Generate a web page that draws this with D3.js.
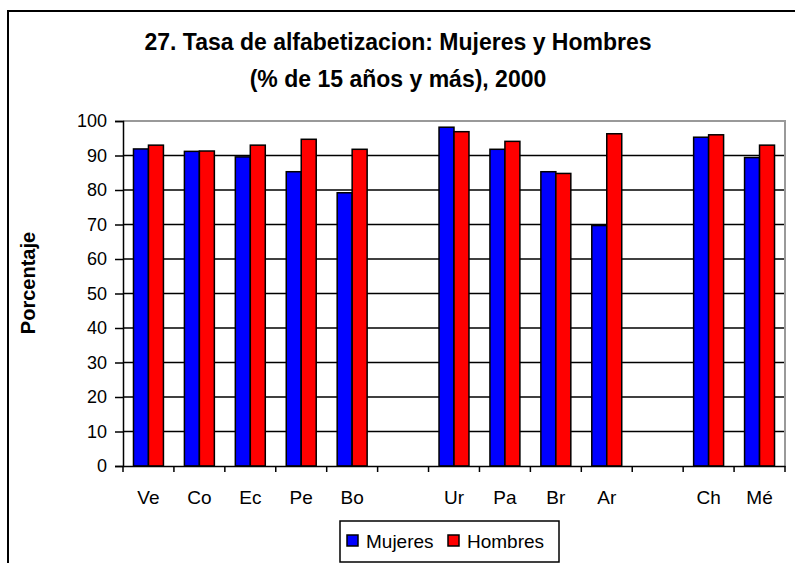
<!DOCTYPE html>
<html>
<head>
<meta charset="utf-8">
<script src="https://cdn.jsdelivr.net/npm/d3@7"></script>
<style>
  body { margin: 0; background: #fff; }
  svg { font-family: Arial, 'Liberation Sans', sans-serif; }
</style>
</head>
<body>
<div id="chart-area"></div>
<script>
// data (null = empty slot between groups)
var categories = ['Ve', 'Co', 'Ec', 'Pe', 'Bo', null, 'Ur', 'Pa', 'Br', 'Ar', null, 'Ch', 'Mé']
var mujeres = [91.9, 91.2, 89.6, 85.3, 79.2, null, 98.2, 91.8, 85.3, 69.7, null, 95.3, 89.4]
var hombres = [93.0, 91.3, 93.0, 94.7, 91.8, null, 96.9, 94.1, 84.8, 96.3, null, 96.0, 93.0]
var series = ['Mujeres', 'Hombres']
var colors = { Mujeres: '#0000ff', Hombres: '#ff0000' }
var yTicks = [0, 10, 20, 30, 40, 50, 60, 70, 80, 90, 100]

var margin = { left: 123, right: 10, top: 121, bottom: 97 }
var width = 795 - margin.left - margin.right
var height = 563 - margin.top - margin.bottom

var svg = d3.select('#chart-area')
    .append('svg')
        .attr('width', 795)
        .attr('height', 563)

// outer frame
svg.append('rect')
    .attr('x', 8).attr('y', 11)
    .attr('width', 820).attr('height', 600)
    .attr('fill', 'none')
    .attr('stroke', '#000')
    .attr('stroke-width', 2)

// title
var title = svg.append('text')
    .attr('x', 398)
    .attr('text-anchor', 'middle')
    .attr('font-size', '23px')
    .attr('font-weight', 'bold')
title.append('tspan').attr('x', 398).attr('y', 50).text('27. Tasa de alfabetizacion: Mujeres y Hombres')
title.append('tspan').attr('x', 398).attr('y', 87).text('(% de 15 años y más), 2000')

var g = svg.append('g')
    .attr('transform', `translate(${margin.left}, ${margin.top})`)

var idx = d3.range(categories.length)

// X Scale
var x = d3.scaleBand()
    .domain(idx)
    .range([0, width])
    .padding(0)

var x1 = d3.scaleBand()
    .domain(series)
    .range([0, x.bandwidth()])
    .paddingInner(0)
    .paddingOuter(0.7)

// Y Scale
var y = d3.scaleLinear()
    .domain([0, 100])
    .range([height, 0])

// gridlines
g.selectAll('line.grid')
    .data(yTicks.filter(d => d > 0 && d < 100))
    .enter().append('line')
        .attr('class', 'grid')
        .attr('x1', 0).attr('x2', width)
        .attr('y1', d => y(d)).attr('y2', d => y(d))
        .attr('stroke', '#000')
        .attr('stroke-width', 1.5)

// plot border top/right
g.append('path')
    .attr('d', `M0,${y(100)}H${width}V${height}`)
    .attr('fill', 'none')
    .attr('stroke', '#999')
    .attr('stroke-width', 2)

// bars
var rows = idx.filter(i => categories[i] !== null)
var groups = g.selectAll('g.cat')
    .data(rows)
    .enter().append('g')
        .attr('class', 'cat')
        .attr('transform', i => `translate(${x(i)}, 0)`)

groups.selectAll('rect')
    .data(i => [
        { key: 'Mujeres', value: mujeres[i] },
        { key: 'Hombres', value: hombres[i] }
    ])
    .enter().append('rect')
        .attr('x', d => x1(d.key))
        .attr('width', x1.bandwidth())
        .attr('y', d => y(d.value))
        .attr('height', d => height - y(d.value))
        .attr('fill', d => colors[d.key])
        .attr('stroke', '#000')
        .attr('stroke-width', 1.5)

// Y Axis
var yAxisCall = d3.axisLeft(y)
    .tickValues(yTicks)
    .tickSize(8)
    .tickPadding(8)
var yAxisGroup = g.append('g').call(yAxisCall)
yAxisGroup.select('.domain').attr('stroke', '#000').attr('stroke-width', 1.5)
yAxisGroup.selectAll('.tick line').attr('stroke-width', 1.5)
yAxisGroup.selectAll('text')
    .attr('font-size', '18px')
    .attr('font-family', 'Arial, Liberation Sans, sans-serif')
    .attr('fill', '#000')

// X Axis
var xAxisCall = d3.axisBottom(x)
    .tickSize(0)
    .tickPadding(25)
    .tickFormat(i => categories[i] || '')
var xAxisGroup = g.append('g')
    .attr('transform', `translate(0, ${height})`)
    .call(xAxisCall)
xAxisGroup.select('.domain').attr('stroke', '#000').attr('stroke-width', 1.5)
xAxisGroup.selectAll('text')
    .attr('font-size', '19px')
    .attr('font-family', 'Arial, Liberation Sans, sans-serif')
    .attr('fill', '#000')

// category boundary ticks
xAxisGroup.selectAll('line.sep')
    .data(d3.range(categories.length + 1))
    .enter().append('line')
        .attr('class', 'sep')
        .attr('x1', i => i * x.step()).attr('x2', i => i * x.step())
        .attr('y1', 0).attr('y2', 6)
        .attr('stroke', '#000')
        .attr('stroke-width', 1.5)

// y label
svg.append('text')
    .attr('transform', 'translate(35, 283) rotate(-90)')
    .attr('text-anchor', 'middle')
    .attr('font-size', '20px')
    .attr('font-weight', 'bold')
    .text('Porcentaje')

// legend
var legend = svg.append('g').attr('transform', 'translate(340, 521)')
legend.append('rect')
    .attr('width', 219).attr('height', 41)
    .attr('fill', '#fff')
    .attr('stroke', '#000')
    .attr('stroke-width', 1.5)

var legendX = { Mujeres: 7, Hombres: 108 }
series.forEach(s => {
    legend.append('rect')
        .attr('x', legendX[s]).attr('y', 14)
        .attr('width', 11).attr('height', 11)
        .attr('fill', colors[s])
        .attr('stroke', '#000')
        .attr('stroke-width', 1.5)
    legend.append('text')
        .attr('x', legendX[s] + 19)
        .attr('y', 27)
        .attr('font-size', '19px')
        .text(s)
})
</script>
</body>
</html>
